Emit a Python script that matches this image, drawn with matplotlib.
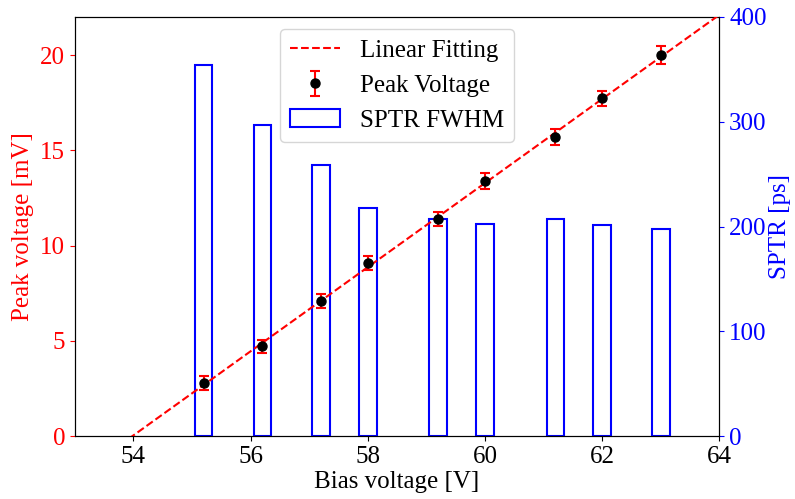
import numpy as np
import matplotlib.pyplot as plt

plt.rcParams['font.family'] = ['Liberation Serif', 'DejaVu Serif']
plt.rcParams['mathtext.fontset'] = 'stix'

# Bias voltage [V]
bias = [55.2, 56.2, 57.2, 58.0, 59.2, 60.0, 61.2, 62.0, 63.0]
# Peak voltage [mV]
peak = [2.78, 4.72, 7.09, 9.08, 11.39, 13.39, 15.70, 17.74, 20.0]
peak_err = [0.35, 0.35, 0.35, 0.35, 0.35, 0.4, 0.4, 0.4, 0.45]
# SPTR FWHM [ps]
sptr = [354, 297, 259, 218, 207, 202, 207, 201, 198]

# Linear fit
pend, inter = np.polyfit(bias, peak, 1)
xfit = np.linspace(53, 64, 200)
yfit = pend * xfit + inter

fig, ax = plt.subplots(figsize=(7.95, 4.99), dpi=100)
ax2 = ax.twinx()

l1, = ax.plot(xfit, yfit, 'r--', lw=1.5, label='Linear Fitting', zorder=3)
e1 = ax.errorbar(bias, peak, yerr=peak_err, fmt='o', color='black', ecolor='red',
                 capsize=3.5, ms=6.5, elinewidth=1.5, capthick=1.5, label='Peak Voltage', zorder=4)
b1 = ax2.bar(bias, sptr, width=0.3, facecolor='none', edgecolor='blue', lw=1.5, label='SPTR FWHM')

ax.set_zorder(ax2.get_zorder() + 1)
ax.patch.set_visible(False)

ax.set_xlim(53, 64)
ax.set_ylim(0, 22)
ax2.set_ylim(0, 400)
ax.set_xticks([54, 56, 58, 60, 62, 64])
ax.set_yticks([0, 5, 10, 15, 20])
ax2.set_yticks([0, 100, 200, 300, 400])

ax.set_xlabel('Bias voltage [V]', fontsize=18, labelpad=2)
ax.set_ylabel('Peak voltage [mV]', fontsize=18, color='red')
ax2.set_ylabel('SPTR [ps]', fontsize=18, color='blue', labelpad=2)
ax.tick_params(axis='x', labelsize=18)
ax.tick_params(axis='y', labelsize=18, colors='red')
ax2.tick_params(axis='y', labelsize=18, colors='blue')

ax.legend([l1, e1, b1], ['Linear Fitting', 'Peak Voltage', 'SPTR FWHM'],
          loc='upper center', fontsize=18)

plt.subplots_adjust(left=0.094, right=0.905, top=0.966, bottom=0.126)
plt.savefig('out.png', dpi=100)
